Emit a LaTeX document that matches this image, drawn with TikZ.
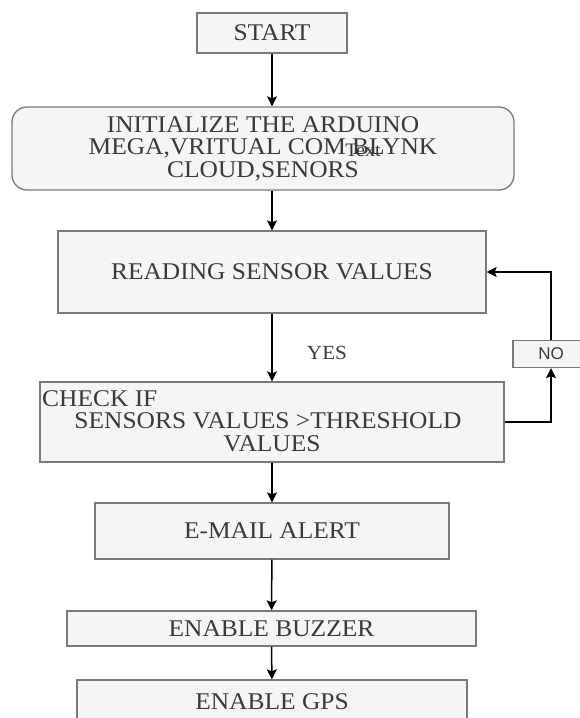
\documentclass[tikz,border=0pt]{standalone}
\usepackage{fontspec}
\setmainfont{Liberation Serif}[FakeStretch=1.06]
\newfontfamily\nofont{Liberation Sans}
\usetikzlibrary{arrows.meta}
\definecolor{boxfill}{HTML}{F5F5F5}
\definecolor{boxline}{HTML}{7A7A7A}
\definecolor{txt}{HTML}{3A3A3A}
\begin{document}
\begin{tikzpicture}[x=1pt,y=-1pt,
  box/.style={draw=boxline, line width=1.3pt, fill=boxfill, text=txt,
    font=\fontsize{24}{22.5}\selectfont, align=center, inner sep=0pt},
  lbl/.style={text=txt, inner sep=0pt, font=\fontsize{24}{22.5}\selectfont},
  arr/.style={-{Stealth[length=10pt,width=10pt,inset=2pt]}, line width=1.5pt, black}]
\useasboundingbox (0,0) rectangle (579,718);
\fill[white] (0,0) rectangle (579,718);
\node[box, minimum width=150pt, minimum height=40pt] (start) at (272,33) {START};
\node[box, rounded corners=15pt, minimum width=502pt, minimum height=83pt] (init) at (263,148.5)
  {INITIALIZE THE ARDUINO\\MEGA,VRITUAL COM BLYNK\\CLOUD,SENORS};
\node[text=black!80, inner sep=0pt, font=\fontsize{19}{19}\selectfont] (ovl) at (363,150) {Text};
\node[box, minimum width=428pt, minimum height=82pt] (reading) at (272,272) {READING SENSOR VALUES};
\node[box, minimum width=464pt, minimum height=80pt] (check) at (272,422) {};
\node[lbl, anchor=west] (chka) at (42,399) {CHECK IF};
\node[lbl] (chkb) at (268,421) {SENSORS VALUES >THRESHOLD};
\node[lbl] (chkc) at (272,444) {VALUES};
\node[box, minimum width=76pt, minimum height=27pt, font=\nofont\fontsize{17}{17}\selectfont] (no) at (551,354) {NO};
\node[lbl, font=\fontsize{20}{20}\selectfont] (yes) at (327,353) {YES};
\node[box, minimum width=354pt, minimum height=56pt] (email) at (272,531) {E-MAIL ALERT};
\node[box, minimum width=409pt, minimum height=35pt] (buzz) at (271.5,628.5) {ENABLE BUZZER};
\node[box, minimum width=390pt, minimum height=44pt] (gps) at (272,702) {ENABLE GPS};
\draw[arr] (start.south) -- (start.south |- init.north);
\draw[arr] (reading.north |- init.south) -- (reading.north);
\draw[arr] (reading) -- (check);
\draw[arr] (check) -- (email);
\draw[arr] (email) -- (buzz);
\draw[arr] (buzz) -- (gps);
\draw[arr] (check.east) -| (no.south);
\draw[arr] (no.north) |- (reading.east);
\end{tikzpicture}
\end{document}
